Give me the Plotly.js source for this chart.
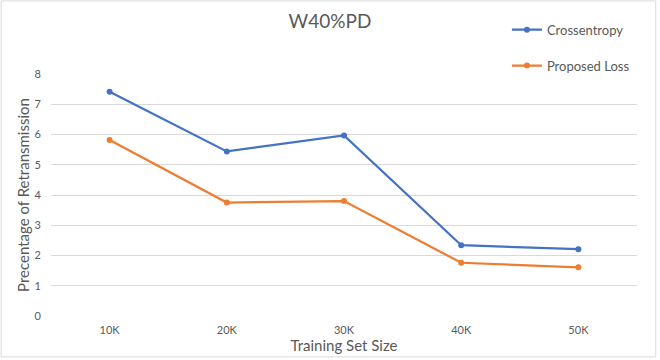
<!DOCTYPE html>
<html>
<head>
<meta charset="utf-8">
<script src="https://cdn.plot.ly/plotly-3.0.1.min.js"></script>
<style>html,body{margin:0;padding:0;background:#fff;}#chart{width:660px;height:360px;}</style>
</head>
<body>
<div id="chart"></div>
<script>
const categories = ["10K", "20K", "30K", "40K", "50K"];
const crossentropy = [7.41, 5.44, 5.97, 2.34, 2.21];
const proposedLoss = [5.82, 3.75, 3.80, 1.76, 1.61];
const yTicks = [0, 1, 2, 3, 4, 5, 6, 7, 8];

const font = "Lato, 'Open Sans', sans-serif";
const textColor = "#595959";

const traces = [
  {x: categories, y: crossentropy, name: "Crossentropy", type: "scatter", mode: "lines+markers",
   legendgroup: "a", line: {color: "#4472C4", width: 2.25}, marker: {color: "#4472C4", size: 6}},
  {x: categories, y: proposedLoss, name: "Proposed Loss", type: "scatter", mode: "lines+markers",
   legendgroup: "b", line: {color: "#ED7D31", width: 2.25}, marker: {color: "#ED7D31", size: 6}}
];

const layout = {
  width: 660, height: 360,
  margin: {l: 51, r: 23, t: 74, b: 44},
  paper_bgcolor: "#fff", plot_bgcolor: "#fff",
  font: {family: font, color: textColor},
  title: {text: "W40%PD", x: 0.5, xanchor: "center", y: 0.94, yanchor: "middle",
          font: {family: font, size: 19, color: textColor}},
  xaxis: {type: "category", range: [-0.5, 4.5], showgrid: false, zeroline: false, showline: false,
          ticks: "", tickfont: {size: 11, color: textColor}, ticklabelstandoff: 6,
          title: {text: "Training Set Size", font: {size: 15, color: textColor}, standoff: 4}},
  yaxis: {range: [0, 8], tickvals: yTicks, showgrid: true, gridcolor: "#d9d9d9", gridwidth: 1,
          zeroline: false, showline: false, ticks: "", tickfont: {size: 11, color: textColor},
          ticklabelstandoff: 9,
          title: {text: "Precentage of Retransmission", font: {size: 15, color: textColor}, standoff: 1}},
  showlegend: true,
  legend: {x: 0.778, y: 1.245, xanchor: "left", yanchor: "top", bgcolor: "rgba(0,0,0,0)",
           font: {size: 13, color: textColor}, itemwidth: 30, traceorder: "grouped", tracegroupgap: 16},
  shapes: [{type: "rect", xref: "paper", yref: "paper", x0: -0.085, x1: 1.032, y0: -0.169, y1: 1.302,
            line: {color: "#d9d9d9", width: 1}, fillcolor: "rgba(0,0,0,0)", layer: "below"}]
};

Plotly.newPlot("chart", traces, layout, {displayModeBar: false, staticPlot: true});
</script>
</body>
</html>
